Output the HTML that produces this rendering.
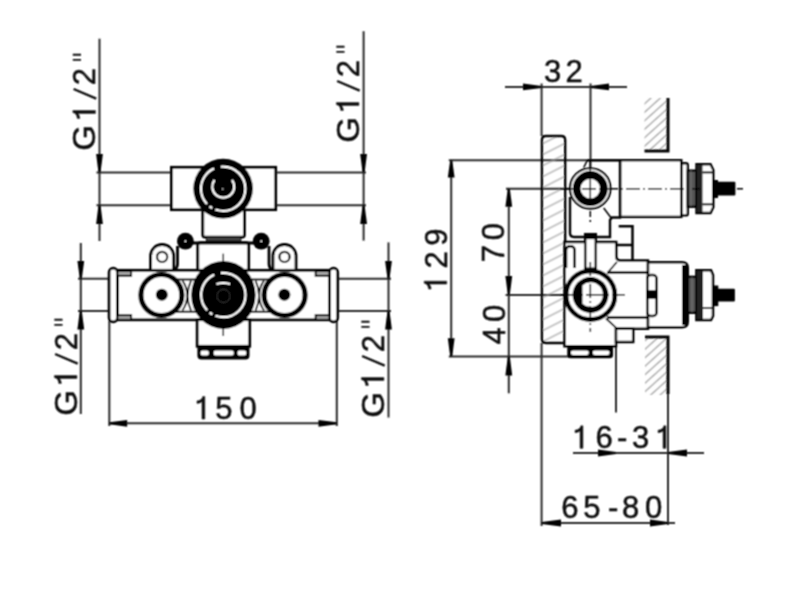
<!DOCTYPE html>
<html><head><meta charset="utf-8"><style>
html,body{margin:0;padding:0;background:#fff;}
svg{display:block;font-family:"Liberation Sans",sans-serif;}
</style></head><body>
<svg width="800" height="603" viewBox="0 0 800 603">
<defs>
<pattern id="hatch" patternUnits="userSpaceOnUse" width="20" height="9.8" patternTransform="translate(541,205) rotate(-27)">
<line x1="-1" y1="4.9" x2="21" y2="4.9" stroke="#9a9a9a" stroke-width="1.1"/>
</pattern>
<pattern id="hatch2" patternUnits="userSpaceOnUse" width="20" height="6.3" patternTransform="translate(645,345) rotate(-42)">
<line x1="-1" y1="3.15" x2="21" y2="3.15" stroke="#9a9a9a" stroke-width="1.2"/>
</pattern>
<filter id="soft" x="0" y="0" width="100%" height="100%" filterUnits="userSpaceOnUse"><feConvolveMatrix order="3" kernelMatrix="1 2 1 2 4 2 1 2 1" divisor="16" edgeMode="duplicate"/></filter>
</defs>
<rect width="800" height="603" fill="#fff"/>
<g filter="url(#soft)">

<!-- ============ LEFT DRAWING: dimensions ============ -->
<g stroke="#2a2a2a" stroke-width="2" fill="none">
  <!-- upper left -->
  <line x1="99.5" y1="38.7" x2="99.5" y2="241"/>
  <line x1="96.5" y1="172.6" x2="171.4" y2="172.6"/>
  <line x1="96.5" y1="205.2" x2="171.4" y2="205.2"/>
  <!-- upper right -->
  <line x1="363.6" y1="31.2" x2="363.6" y2="240.6"/>
  <line x1="275.7" y1="172.6" x2="366" y2="172.6"/>
  <line x1="275.7" y1="205.2" x2="366" y2="205.2"/>
  <!-- lower left -->
  <line x1="80.8" y1="243" x2="80.8" y2="414"/>
  <line x1="78" y1="278.7" x2="109" y2="278.7"/>
  <line x1="78" y1="311" x2="109" y2="311"/>
  <!-- lower right -->
  <line x1="388.5" y1="242.4" x2="388.5" y2="417.5"/>
  <line x1="337.5" y1="278.7" x2="391" y2="278.7"/>
  <line x1="337.5" y1="311" x2="391" y2="311"/>
  <!-- 150 -->
  <line x1="109.3" y1="321" x2="109.3" y2="426"/>
  <line x1="336.8" y1="321" x2="336.8" y2="426"/>
  <line x1="109.3" y1="423.3" x2="336.8" y2="423.3"/>
</g>
<g fill="#000" stroke="none">
  <polygon points="100.50,172.60 102.90,154.00 96.10,154.00 98.50,172.60"/>
  <polygon points="98.50,205.20 96.10,224.00 102.90,224.00 100.50,205.20"/>
  <polygon points="364.60,172.60 367.00,154.00 360.20,154.00 362.60,172.60"/>
  <polygon points="362.60,205.20 360.20,224.00 367.00,224.00 364.60,205.20"/>
  <polygon points="81.80,278.70 84.20,261.00 77.40,261.00 79.80,278.70"/>
  <polygon points="79.80,311.00 77.40,329.50 84.20,329.50 81.80,311.00"/>
  <polygon points="389.50,278.70 391.90,261.00 385.10,261.00 387.50,278.70"/>
  <polygon points="387.50,311.00 385.10,329.50 391.90,329.50 389.50,311.00"/>
  <polygon points="109.30,424.30 127.20,426.70 127.20,419.90 109.30,422.30"/>
  <polygon points="336.80,422.30 318.50,419.90 318.50,426.70 336.80,424.30"/>
</g>
<g font-size="31" fill="#111" stroke="#111" stroke-width="0.5">
  <g transform="translate(95.4,149.6) rotate(-90)">
    <text x="-1" y="0" transform="scale(1.07,1)">G</text>
    <path transform="translate(31.1,0)" d="M7.9,0 V-22.5 H5.9 C5.4,-19.8 3.4,-18.4 0.1,-18.1 V-15.6 C2.5,-15.8 4.2,-16.5 5.1,-17.6 V0 Z"/>
    <text x="64.4" y="0">2</text>
    <path d="M89.7,-22.6 V-14.4 M94.9,-22.6 V-14.4" stroke="#111" stroke-width="1.9"/>
    <line x1="51" y1="0.8" x2="60.6" y2="-21.8" stroke="#111" stroke-width="2.4"/>
  </g>
  <g transform="translate(358.9,141.6) rotate(-90)">
    <text x="-1" y="0" transform="scale(1.07,1)">G</text>
    <path transform="translate(31.1,0)" d="M7.9,0 V-22.5 H5.9 C5.4,-19.8 3.4,-18.4 0.1,-18.1 V-15.6 C2.5,-15.8 4.2,-16.5 5.1,-17.6 V0 Z"/>
    <text x="64.4" y="0">2</text>
    <path d="M89.7,-22.6 V-14.4 M94.9,-22.6 V-14.4" stroke="#111" stroke-width="1.9"/>
    <line x1="51" y1="0.8" x2="60.6" y2="-21.8" stroke="#111" stroke-width="2.4"/>
  </g>
  <g transform="translate(76.9,414.6) rotate(-90)">
    <text x="-1" y="0" transform="scale(1.07,1)">G</text>
    <path transform="translate(31.1,0)" d="M7.9,0 V-22.5 H5.9 C5.4,-19.8 3.4,-18.4 0.1,-18.1 V-15.6 C2.5,-15.8 4.2,-16.5 5.1,-17.6 V0 Z"/>
    <text x="64.4" y="0">2</text>
    <path d="M89.7,-22.6 V-14.4 M94.9,-22.6 V-14.4" stroke="#111" stroke-width="1.9"/>
    <line x1="51" y1="0.8" x2="60.6" y2="-21.8" stroke="#111" stroke-width="2.4"/>
  </g>
  <g transform="translate(383.9,416.6) rotate(-90)">
    <text x="-1" y="0" transform="scale(1.07,1)">G</text>
    <path transform="translate(31.1,0)" d="M7.9,0 V-22.5 H5.9 C5.4,-19.8 3.4,-18.4 0.1,-18.1 V-15.6 C2.5,-15.8 4.2,-16.5 5.1,-17.6 V0 Z"/>
    <text x="64.4" y="0">2</text>
    <path d="M89.7,-22.6 V-14.4 M94.9,-22.6 V-14.4" stroke="#111" stroke-width="1.9"/>
    <line x1="51" y1="0.8" x2="60.6" y2="-21.8" stroke="#111" stroke-width="2.4"/>
  </g>
  <path transform="translate(196.9,419)" d="M7.9,0 V-22.5 H5.9 C5.4,-19.8 3.4,-18.4 0.1,-18.1 V-15.6 C2.5,-15.8 4.2,-16.5 5.1,-17.6 V0 Z"/>
  <text x="215.3 239.4" y="419">50</text>
</g>

<!-- ============ LEFT DRAWING: body ============ -->
<g stroke="#000" stroke-width="2.8" fill="#fff">
  <!-- top rect -->
  <rect x="171.4" y="167.3" width="104.3" height="42.4"/>
  <rect x="202.8" y="209.7" width="41.6" height="27.4" rx="2"/>
  <rect x="206.4" y="237.1" width="34.4" height="4" fill="#444" stroke-width="1"/>
  <!-- upper block -->
  <path d="M197.8,270 V245 Q197.8,242.6 200.5,242.6 H246 Q248.7,242.6 248.7,245 V270"/>
  <line x1="190" y1="243" x2="256" y2="243"/>
  <path d="M177.5,246 V264 Q177.5,268 174,270" fill="none"/>
  <path d="M269,246 V264 Q269,268 272.5,270" fill="none"/>
  <!-- lugs -->
  <path d="M150.6,270 V256 A11.5,11.5 0 0 1 173.6,256 V270"/>
  <circle cx="162.1" cy="256.9" r="5.1" stroke-width="2.2"/>
  <path d="M273,270 V256 A11.5,11.5 0 0 1 296,256 V270"/>
  <circle cx="284.5" cy="256.9" r="5.1" stroke-width="2.2"/>
  <!-- body band -->
  <rect x="117.4" y="270.3" width="212" height="49.5" stroke-width="2.8"/>
  <line x1="176" y1="279.5" x2="270" y2="279.5" stroke-width="2"/>
  <line x1="176" y1="311.7" x2="270" y2="311.7" stroke-width="2"/>
  <!-- lower block -->
  <rect x="197.2" y="319.7" width="52.5" height="26.6"/>
  <rect x="198.8" y="346.3" width="49.3" height="11.7" rx="2.5" fill="#000"/>
  <!-- flanges -->
  <rect x="109.1" y="268.2" width="8.3" height="53.6" rx="4"/>
  <rect x="329.4" y="268.2" width="8.3" height="53.6" rx="4"/>
  <!-- tabs -->
  <rect x="117.4" y="271" width="13.7" height="4.8" fill="#aaa" stroke-width="2"/>
  <rect x="117.4" y="315.2" width="13.7" height="4.6" fill="#aaa" stroke-width="2"/>
  <rect x="315.7" y="271" width="13.7" height="4.8" fill="#aaa" stroke-width="2"/>
  <rect x="315.7" y="315.2" width="13.7" height="4.6" fill="#aaa" stroke-width="2"/>
</g>
<g fill="#fff" stroke="none">
  <rect x="200.6" y="350.6" width="8.2" height="5" rx="2"/>
  <rect x="213.7" y="350.6" width="20" height="5" rx="2"/>
  <rect x="237.5" y="350.6" width="8.7" height="5" rx="2"/>
</g>
<g fill="#000">
  <circle cx="185.4" cy="241.2" r="8.4"/>
  <circle cx="261.2" cy="241.2" r="8.4"/>
</g>
<g fill="#fff">
  <circle cx="185.4" cy="241.2" r="0.9"/>
  <circle cx="261.2" cy="241.2" r="0.9"/>
</g>
<!-- X shapes between circles -->
<g stroke="#000" stroke-width="1.8" fill="none">
  <path d="M182.4,280.5 A26,26 0 0 1 182.4,310.5"/>
  <path d="M191,280.5 A36,36 0 0 0 191,310.5"/>
  <path d="M264,280.5 A26,26 0 0 0 264,310.5"/>
  <path d="M255.6,280.5 A36,36 0 0 1 255.6,310.5"/>
</g>
<!-- side circles -->
<g stroke="#000" stroke-width="5.2" fill="#fff">
  <circle cx="161.4" cy="295" r="20.5"/>
  <circle cx="284.6" cy="295" r="20.5"/>
</g>
<g fill="#000">
  <circle cx="161.8" cy="294.7" r="6"/>
  <circle cx="284.4" cy="294.7" r="6"/>
</g>
<!-- big center circle -->
<ellipse cx="223.4" cy="294.9" rx="32.2" ry="34" fill="#000"/>
<circle cx="223.3" cy="295" r="22.2" fill="none" stroke="#fff" stroke-width="2.2" stroke-dasharray="42.62 3.49 3.10 3.49 41.85 6.97 37.97"/>
<path d="M216.5,284 Q223.4,282 230,284" stroke="#fff" stroke-width="2" fill="none"/>
<circle cx="223.5" cy="296" r="6.6" fill="none" stroke="#2a2a2a" stroke-width="1.2"/>
<line x1="223.3" y1="253.7" x2="223.3" y2="261" stroke="#000" stroke-width="1.5"/>
<line x1="223.3" y1="328" x2="223.3" y2="336" stroke="#000" stroke-width="1.5"/>
<!-- top circle -->
<circle cx="223.1" cy="188.6" r="29.8" fill="#000"/>
<circle cx="223.15" cy="188.8" r="22.2" fill="none" stroke="#fff" stroke-width="2.2" stroke-dasharray="42.62 3.49 3.10 3.49 41.85 6.97 37.97"/>
<path d="M214.5,180 A11,11 0 1 0 232,180" stroke="#fff" stroke-width="2.1" fill="none"/>
<circle cx="222.8" cy="189" r="0.8" fill="#fff"/>

<!-- ============ RIGHT DRAWING ============ -->
<g stroke="#2a2a2a" stroke-width="2" fill="none">
  <!-- 32 -->
  <line x1="505" y1="86.9" x2="627" y2="86.9"/>
  <line x1="541.6" y1="83.5" x2="541.6" y2="136"/>
  <line x1="590.5" y1="83.5" x2="590.5" y2="167"/>
  <!-- 129 -->
  <line x1="451.2" y1="160.2" x2="451.2" y2="356.4"/>
  <line x1="448.8" y1="160.2" x2="620" y2="160.2"/>
  <line x1="448.8" y1="356.4" x2="569" y2="356.4"/>
  <!-- 70 / 40 -->
  <line x1="508.8" y1="188.8" x2="508.8" y2="393.3"/>
  <line x1="506" y1="188.8" x2="570" y2="188.8"/>
  <line x1="505.6" y1="294.9" x2="565" y2="294.9"/>
  <!-- bottom ext lines -->
  <line x1="541.6" y1="343" x2="541.6" y2="526"/>
  <line x1="616" y1="347" x2="616" y2="412.4"/>
  <line x1="668" y1="394" x2="668" y2="525"/>
  <!-- 16-31 -->
  <line x1="573" y1="453" x2="704" y2="453"/>
  <!-- 65-80 -->
  <line x1="541.6" y1="523" x2="675" y2="523"/>
</g>
<g fill="#000" stroke="none">
  <polygon points="541.60,85.90 523.00,83.50 523.00,90.30 541.60,87.90"/>
  <polygon points="590.60,87.90 609.00,90.30 609.00,83.50 590.60,85.90"/>
  <polygon points="450.20,160.20 447.80,177.60 454.60,177.60 452.20,160.20"/>
  <polygon points="452.20,356.40 454.60,338.30 447.80,338.30 450.20,356.40"/>
  <polygon points="507.80,188.80 505.40,206.80 512.20,206.80 509.80,188.80"/>
  <polygon points="509.80,294.80 512.20,276.00 505.40,276.00 507.80,294.80"/>
  <polygon points="507.80,356.40 505.40,375.40 512.20,375.40 509.80,356.40"/>
  <polygon points="616.00,452.00 598.00,449.60 598.00,456.40 616.00,454.00"/>
  <polygon points="668.00,454.00 687.00,456.40 687.00,449.60 668.00,452.00"/>
  <polygon points="541.60,524.00 561.00,526.40 561.00,519.60 541.60,522.00"/>
  <polygon points="668.00,522.00 650.00,519.60 650.00,526.40 668.00,524.00"/>
</g>
<g font-size="31" fill="#111" stroke="#111" stroke-width="0.5">
  <text x="544 565.4" y="82">32</text>
  <g transform="translate(446.7,290.3) rotate(-90)">
    <path transform="translate(1.2,0)" d="M7.9,0 V-22.5 H5.9 C5.4,-19.8 3.4,-18.4 0.1,-18.1 V-15.6 C2.5,-15.8 4.2,-16.5 5.1,-17.6 V0 Z"/>
    <text x="21.7 44.6" y="0">29</text>
  </g>
  <g transform="translate(504,260.7) rotate(-90)">
    <text x="-1.5 20.5" y="0">70</text>
  </g>
  <g transform="translate(504.6,344.6) rotate(-90)">
    <text x="0 22.5" y="0">40</text>
  </g>
  <path transform="translate(575,448.3)" d="M7.9,0 V-22.5 H5.9 C5.4,-19.8 3.4,-18.4 0.1,-18.1 V-15.6 C2.5,-15.8 4.2,-16.5 5.1,-17.6 V0 Z"/>
  <text x="595.5 617 632" y="448.3">6-3</text>
  <path transform="translate(658,448.3)" d="M7.9,0 V-22.5 H5.9 C5.4,-19.8 3.4,-18.4 0.1,-18.1 V-15.6 C2.5,-15.8 4.2,-16.5 5.1,-17.6 V0 Z"/>
  <text x="561.3 583.3 608 622 645" y="518.3">65-80</text>
</g>

<!-- walls -->
<rect x="644.5" y="98" width="23.5" height="53" fill="url(#hatch2)"/>
<path d="M668,98 V151 H644.5" stroke="#000" stroke-width="3" fill="none"/>
<rect x="645" y="337" width="23" height="58" fill="url(#hatch2)"/>
<path d="M645,337 H668 V394" stroke="#000" stroke-width="3" fill="none"/>

<!-- panel -->
<path d="M541.9,140 Q541.9,136 545.9,136 H561.2 Q565.2,136 565.2,140 V343 H546 Q541.9,343 541.9,339 Z" fill="url(#hatch)" stroke="#000" stroke-width="2.4"/>

<!-- upper body -->
<g stroke="#000" stroke-width="2.4" fill="#fff">
  <path d="M587.5,160.2 H620 V217.5 H612 L610,220 V237 H574 Q570,237 570,233 V197" fill="none"/>
  <rect x="620.3" y="160.2" width="61" height="56.7"/>
  <rect x="681.5" y="163.2" width="6.3" height="52.2" rx="2"/>
  <rect x="687.8" y="170.7" width="8.7" height="36" fill="#555"/>
  <path d="M696.5,164.3 H710.5 L713.3,170 V207.3 L710.5,213 H696.5 Z"/>
</g>
<g stroke="none" fill="#000">
  <rect x="697" y="165" width="5.5" height="47" fill="#222"/>
  <rect x="713" y="180" width="5" height="18"/>
  <rect x="713" y="181.7" width="22.4" height="13.9" rx="1"/>
</g>
<g stroke="#000" stroke-width="2" fill="none">
  <line x1="702.5" y1="172.4" x2="713" y2="172.4"/>
  <line x1="702.5" y1="204.3" x2="713" y2="204.3"/>
  <line x1="691" y1="171" x2="691" y2="206" stroke="#777" stroke-width="1"/>
</g>
<!-- upper port -->
<circle cx="590.3" cy="188.4" r="20.2" fill="#fff" stroke="#000" stroke-width="2.1"/>
<circle cx="590.3" cy="188.6" r="13.65" fill="none" stroke="#000" stroke-width="7.7"/>
<line x1="583.7" y1="167.5" x2="587.5" y2="160" stroke="#000" stroke-width="1.6"/>
<line x1="603.7" y1="208" x2="611.2" y2="218" stroke="#000" stroke-width="1.6"/>
<g stroke="#000" stroke-width="1.5" fill="none">
  <line x1="560" y1="188.7" x2="700" y2="188.7" stroke-dasharray="14 3 2 3"/>
  <line x1="713" y1="188.7" x2="745" y2="188.7" stroke-dasharray="0 24 6 100"/>
  <line x1="590.3" y1="160" x2="590.3" y2="206"/>
  <line x1="590.3" y1="211" x2="590.3" y2="224" stroke-dasharray="6 3 2 3"/>
</g>

<!-- lower body -->
<g stroke="#000" stroke-width="2.5" fill="#fff">
  <path d="M564.5,241.9 H616.2 V256 Q616.2,260.5 620.5,260.5 H648 V328.7 H616 V346.2 H564.5 Z"/>
  <rect x="616" y="328.7" width="17.2" height="13.3"/>
  <path d="M618.7,226.2 H632.5 V260.6" fill="none"/>
  <line x1="616" y1="245" x2="632.5" y2="245"/>
  <rect x="585.2" y="234.2" width="10.6" height="34.5"/>
  <rect x="585.2" y="234.2" width="10.6" height="4.2" fill="#000" stroke-width="1.5"/>
  <path d="M566,268 V250.5 Q566,246.2 570.3,246.2 Q574.6,246.2 574.6,250.5 V268" fill="none"/>
  <line x1="607" y1="272.4" x2="648" y2="272.4"/>
  <line x1="607" y1="317.4" x2="648" y2="317.4"/>
  <path d="M608.75,271.5 L616.9,262" fill="none" stroke-width="1.8"/>
  <path d="M606,318.5 L617,328.7" fill="none" stroke-width="1.8"/>
  <path d="M648,262.3 H682 Q687.8,262.3 687.8,268 V321.6 Q687.8,327.3 682,327.3 H648 Z"/>
  <rect x="682" y="265" width="5.8" height="60" fill="#000" stroke="none"/>
  <rect x="687.8" y="276.9" width="9" height="35.8" fill="#555"/>
  <path d="M696.4,270.3 H711 L713,275 V316 L711,320 H696.4 Z"/>
  <rect x="647.3" y="275" width="9.3" height="41" rx="3.5"/>
  <rect x="568.5" y="346.5" width="43.3" height="10.5" rx="2" fill="#000"/>
</g>
<g stroke="none" fill="#000">
  <rect x="697" y="271" width="6" height="48" fill="#222"/>
  <rect x="713" y="285.5" width="5.3" height="20.6"/>
  <rect x="713" y="288.85" width="21.9" height="12.65" rx="1"/>
  <rect x="648" y="290.2" width="8.6" height="8.6"/>
</g>
<g stroke="#000" stroke-width="2" fill="none">
  <line x1="703" y1="308" x2="713" y2="308"/>
  <line x1="692" y1="277.5" x2="692" y2="312" stroke="#777" stroke-width="1"/>
</g>
<g fill="#fff">
  <rect x="570.8" y="350.4" width="18" height="4.6" rx="2.3"/>
  <rect x="592.7" y="350.4" width="16.9" height="4.6" rx="2.3"/>
</g>
<!-- lower port -->
<circle cx="590.5" cy="295.2" r="24.4" fill="#fff" stroke="#000" stroke-width="4.7"/>
<circle cx="590.5" cy="295" r="17.9" fill="#000"/>
<path d="M582.4,285.5 A12.3,12.3 0 1 1 582.4,303.8 Z" fill="#fff"/>
<g stroke="#000" stroke-width="1.5" fill="none">
  <line x1="560" y1="294.85" x2="625" y2="294.85" stroke-dasharray="18 3 2 3"/>
  <line x1="590.35" y1="262" x2="590.35" y2="332" stroke-dasharray="14 3 2 3"/>
</g>
</g>
</svg>
</body></html>
